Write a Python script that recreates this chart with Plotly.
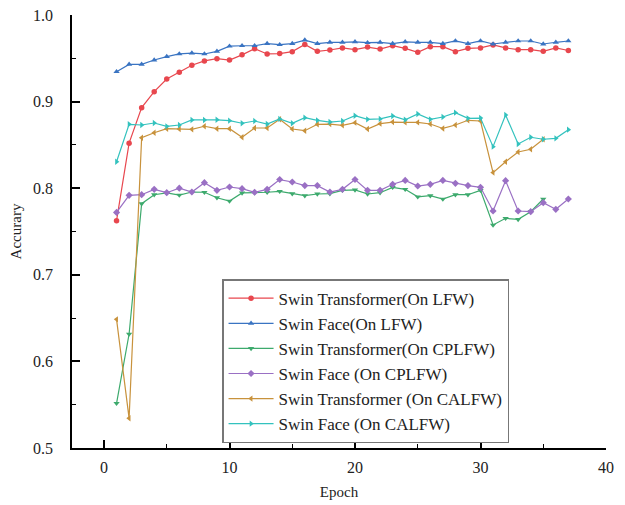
import plotly.graph_objects as go

epochs_face = list(range(1, 38))
epochs_trans = list(range(1, 38))
epochs_trans35 = list(range(1, 36))

st_lfw = [0.7625, 0.852, 0.893, 0.9115, 0.926, 0.934, 0.942, 0.947, 0.9495, 0.948,
          0.954, 0.961, 0.955, 0.9555, 0.9577, 0.966, 0.958, 0.9596, 0.962, 0.960,
          0.963, 0.9607, 0.9646, 0.9615, 0.957, 0.9634, 0.9634, 0.9577, 0.9615, 0.962,
          0.9654, 0.962, 0.960, 0.960, 0.958, 0.962, 0.959]
sf_lfw = [0.9345, 0.943, 0.943, 0.948, 0.952, 0.955, 0.956, 0.955, 0.958, 0.964,
          0.9645, 0.9645, 0.967, 0.9657, 0.967, 0.971, 0.967, 0.9685, 0.9685, 0.969,
          0.968, 0.9685, 0.967, 0.969, 0.9685, 0.9685, 0.967, 0.970, 0.967, 0.970,
          0.9665, 0.9685, 0.970, 0.970, 0.9665, 0.9685, 0.970]
st_cplfw = [0.5516, 0.6316, 0.7821, 0.7925, 0.7945, 0.7921, 0.7956, 0.7953, 0.789, 0.7852,
            0.7945, 0.7948, 0.7953, 0.7964, 0.7937, 0.7914, 0.7933, 0.7937, 0.7975, 0.798,
            0.7933, 0.7948, 0.801, 0.7987, 0.790, 0.7914, 0.7875, 0.7925, 0.7925, 0.7975,
            0.7575, 0.7652, 0.764, 0.7729, 0.7875]
sf_cplfw = [0.7720, 0.7918, 0.7925, 0.7987, 0.7948, 0.800, 0.7956, 0.8064, 0.7975, 0.8014,
            0.7995, 0.7953, 0.7987, 0.810, 0.8072, 0.803, 0.803, 0.7956, 0.7987, 0.810,
            0.7975, 0.7975, 0.8045, 0.809, 0.8025, 0.8045, 0.809, 0.8056, 0.803, 0.801,
            0.7737, 0.8087, 0.7737, 0.7729, 0.7833, 0.7756, 0.7875]
st_calfw = [0.6486, 0.5343, 0.8583, 0.864, 0.8687, 0.8684, 0.868, 0.8715, 0.8687, 0.8687,
            0.8588, 0.8695, 0.8695, 0.8796, 0.8684, 0.8664, 0.8738, 0.874, 0.8726, 0.8757,
            0.8684, 0.8745, 0.8764, 0.876, 0.876, 0.8741, 0.869, 0.873, 0.8784, 0.8776,
            0.818, 0.8306, 0.8418, 0.845, 0.8565]
sf_calfw = [0.8306, 0.8738, 0.873, 0.8753, 0.8714, 0.873, 0.8788, 0.8788, 0.879, 0.878,
            0.875, 0.8776, 0.8741, 0.880, 0.875, 0.8814, 0.8784, 0.8764, 0.8776, 0.8837,
            0.8795, 0.880, 0.8834, 0.879, 0.8857, 0.8795, 0.8822, 0.8872, 0.8807, 0.881,
            0.848, 0.8845, 0.851, 0.8588, 0.8565, 0.8576, 0.8676]

series = [
    ("Swin Transformer(On LFW)", epochs_trans, st_lfw, "#E8474E", "circle"),
    ("Swin Face(On LFW)", epochs_face, sf_lfw, "#3A74C2", "triangle-up"),
    ("Swin Transformer(On CPLFW)", epochs_trans35, st_cplfw, "#3DAA6D", "triangle-down"),
    ("Swin Face (On CPLFW)", epochs_face, sf_cplfw, "#9A70C4", "diamond"),
    ("Swin Transformer (On CALFW)", epochs_trans35, st_calfw, "#C8923C", "triangle-left"),
    ("Swin Face (On CALFW)", epochs_face, sf_calfw, "#33C2BE", "triangle-right"),
]

fig = go.Figure()
for name, x, y, color, sym in series:
    fig.add_trace(go.Scatter(
        x=x, y=y, name=name, mode="lines+markers",
        line=dict(color=color, width=1.2),
        marker=dict(symbol=sym, size=5.5, color=color),
    ))

serif = "Liberation Serif"
fig.update_layout(
    width=617, height=497,
    margin=dict(l=64, r=19, t=7, b=57, autoexpand=False),
    paper_bgcolor="white", plot_bgcolor="white",
    font=dict(family=serif, color="#222", size=16),
    showlegend=True,
    legend=dict(
        x=0.281, y=0.39, xanchor="left", yanchor="top",
        bgcolor="white", bordercolor="#777", borderwidth=1.5,
        font=dict(family=serif, size=17, color="#222"),
        itemwidth=45, tracegroupgap=0, entrywidth=265,
    ),
    xaxis=dict(
        range=[-2.55, 40], tickvals=[0, 10, 20, 30, 40],
        ticks="inside", ticklen=8, tickwidth=1.5, tickcolor="black",
        minor=dict(tickvals=[5, 15, 25, 35], ticks="inside", ticklen=4, tickwidth=1.2, tickcolor="black"),
        showline=True, linecolor="black", linewidth=1.5, mirror=False,
        showgrid=False, zeroline=False, automargin=False,
        title=dict(text="Epoch", font=dict(size=15, family=serif), standoff=12),
        tickfont=dict(size=16, family=serif, color="#222"),
        ticklabelstandoff=4, ticklabeloverflow="allow",
    ),
    yaxis=dict(
        range=[0.5, 1.0], tickvals=[0.5, 0.6, 0.7, 0.8, 0.9, 1.0],
        ticktext=["0.5", "0.6", "0.7", "0.8", "0.9", "1.0"],
        ticks="inside", ticklen=8, tickwidth=1.5, tickcolor="black",
        minor=dict(tickvals=[0.55, 0.65, 0.75, 0.85, 0.95], ticks="inside", ticklen=4, tickwidth=1.2, tickcolor="black"),
        showline=True, linecolor="black", linewidth=1.5, mirror=False,
        showgrid=False, zeroline=False, automargin=False,
        title=dict(text="Accurary", font=dict(size=15, family=serif), standoff=8),
        tickfont=dict(size=16, family=serif, color="#222"),
        ticklabelstandoff=14, ticklabeloverflow="allow",
    ),
)

fig.write_html("out.html")
